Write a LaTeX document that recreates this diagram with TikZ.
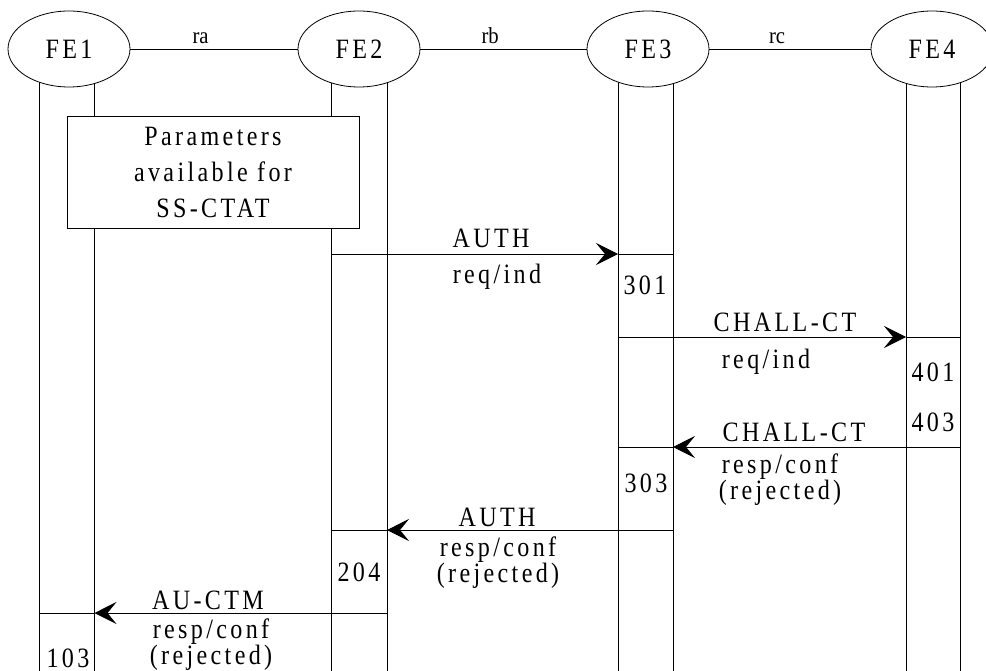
\documentclass[tikz,border=0pt]{standalone}
\usepackage{fontspec}
\setmainfont{Liberation Serif}[LetterSpace=12,FakeStretch=0.86]
\newfontfamily\ifcfont{Liberation Serif}[FakeStretch=0.9]
\usetikzlibrary{shapes.geometric,arrows.meta}

\begin{document}
\begin{tikzpicture}[x=1pt,y=-1pt,line width=0.8pt,
  fe/.style={draw,ellipse,fill=white,minimum width=122pt,minimum height=76pt,
    inner sep=0pt,font=\fontsize{28}{28}\selectfont},
  msg/.style={-{Stealth[length=22pt,width=22pt,inset=9pt]}},
  lbl/.style={inner sep=0pt,align=center,font=\fontsize{28}{26}\selectfont},
  ifc/.style={inner sep=0pt,font=\ifcfont\fontsize{23}{23}\selectfont}]
\clip (0,0) rectangle (986,671);
\coordinate (bot) at (0,671);
% lifelines, two per FE
\coordinate (fe1a) at (39,49);
\coordinate (fe1b) at (94.5,49);
\coordinate (fe2a) at (331.5,49);
\coordinate (fe2b) at (387,49);
\coordinate (fe3a) at (618,49);
\coordinate (fe3b) at (673,49);
\coordinate (fe4a) at (906,49);
\coordinate (fe4b) at (960,49);
\foreach \l in {fe1a,fe1b,fe2a,fe2b,fe3a,fe3b,fe4a,fe4b}
  \draw (\l) -- (\l |- bot);
% functional entities
\node[fe] (fe1) at (69,49) {FE1};
\node[fe] (fe2) at (359,49) {FE2};
\node[fe] (fe3) at (648,49) {FE3};
\node[fe] (fe4) at (932,49) {FE4};
\draw (fe1) -- node[ifc,above=5pt,pos=0.42] (ra) {ra} (fe2);
\draw (fe2) -- node[ifc,above=5pt,pos=0.42] (rb) {rb} (fe3);
\draw (fe3) -- node[ifc,above=5pt,pos=0.42] (rc) {rc} (fe4);
\node[draw,fill=white,minimum width=292pt,minimum height=112pt,align=center,
  inner sep=0pt,font=\fontsize{28}{36}\selectfont] (par) at (213,172)
  {Parameters\\available for\\SS-CTAT};
% messages
\coordinate (m1) at (0,254);
\coordinate (m2) at (0,337);
\coordinate (m3) at (0,447);
\coordinate (m4) at (0,530);
\coordinate (m5) at (0,613);
\draw[msg] (fe2a |- m1) -- (fe3a |- m1);
\draw (fe3a |- m1) -- (fe3b |- m1);
\draw[msg] (fe3a |- m2) -- (fe4a |- m2);
\draw (fe4a |- m2) -- (fe4b |- m2);
\draw[msg] (fe4b |- m3) -- (fe3b |- m3);
\draw (fe3b |- m3) -- (fe3a |- m3);
\draw[msg] (fe3b |- m4) -- (fe2b |- m4);
\draw (fe2b |- m4) -- (fe2a |- m4);
\draw[msg] (fe2b |- m5) -- (fe1b |- m5);
\draw (fe1b |- m5) -- (fe1a |- m5);
% labels
\node[lbl] (auth1) at (491,238) {AUTH};
\node[lbl] (req1) at (497,277) {req/ind};
\node[lbl] (s301) at (645,285) {301};
\node[lbl] (chall1) at (785,322) {CHALL-CT};
\node[lbl] (req2) at (766,362) {req/ind};
\node[lbl] (s401) at (933,372) {401};
\node[lbl] (s403) at (933,422) {403};
\node[lbl] (chall2) at (794,432) {CHALL-CT};
\node[lbl] (resp1) at (780,480) {resp/conf\\(rejected)};
\node[lbl] (s303) at (646,483) {303};
\node[lbl] (auth2) at (497,517) {AUTH};
\node[lbl] (resp2) at (498,563) {resp/conf\\(rejected)};
\node[lbl] (s204) at (359,572) {204};
\node[lbl] (aumsg) at (208,600) {AU-CTM};
\node[lbl] (resp3) at (211,645) {resp/conf\\(rejected)};
\node[lbl] (s103) at (68,658) {103};
\end{tikzpicture}
\end{document}
